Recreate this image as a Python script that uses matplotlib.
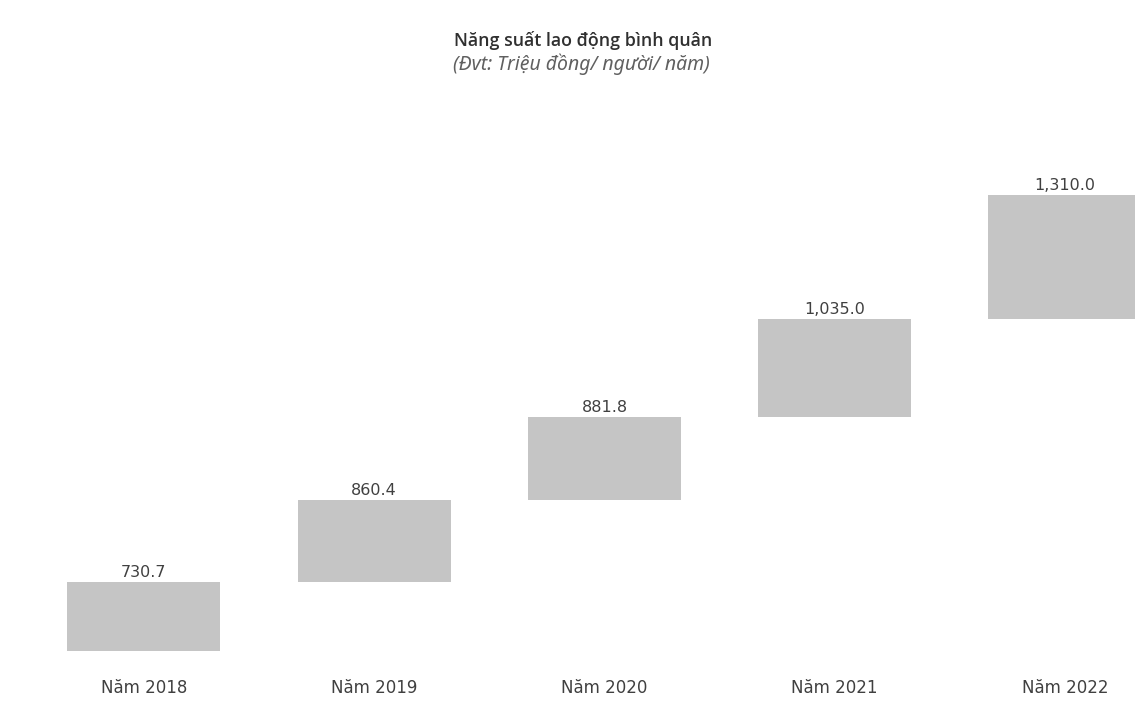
import matplotlib
matplotlib.use("Agg")
import matplotlib.pyplot as plt
import numpy as np

# Average labour productivity by year (million VND / person / year)
years = ["Năm 2018", "Năm 2019", "Năm 2020", "Năm 2021", "Năm 2022"]
values = [730.7, 860.4, 881.8, 1035.0, 1310.0]

title = "Năng suất lao động bình quân"
subtitle = "(Đvt: Triệu đồng/ người/ năm)"

plt.rcParams["font.family"] = ["DejaVu Sans"]

fig = plt.figure(figsize=(11.35, 7.23), dpi=100)
ax = fig.add_axes([0, 0, 1, 1])

x = np.arange(len(values))
bottoms = np.concatenate([[0], np.cumsum(values)[:-1]])
tops = bottoms + np.array(values)

bar_color = "#c5c5c5"
ax.bar(x, values, bottom=bottoms, width=0.665, color=bar_color, edgecolor="none")

for xi, top, v in zip(x, tops, values):
    ax.text(xi, top + 55, f"{v:,.1f}", ha="center", va="baseline",
            fontsize=11.5, color="#404040")

for xi, lab in zip(x, years):
    ax.text(xi, -440, lab, ha="center", va="baseline", fontsize=12, color="#404040")

ax.set_xlim(-0.625, 4.304)
ax.set_ylim(-760.7, 6878)
ax.axis("off")

fig.text(0.514, 1 - 40 / 723, title, ha="center", va="center",
         family=["Open Sans", "DejaVu Sans"],
         fontsize=12.8, color="#303030", fontweight="semibold")
fig.text(0.512, 1 - 64 / 723, subtitle, ha="center", va="center",
         family=["Noto Sans", "DejaVu Sans"],
         fontsize=14, color="#606060", style="italic")

fig.savefig("out.png", dpi=100, facecolor="white")
